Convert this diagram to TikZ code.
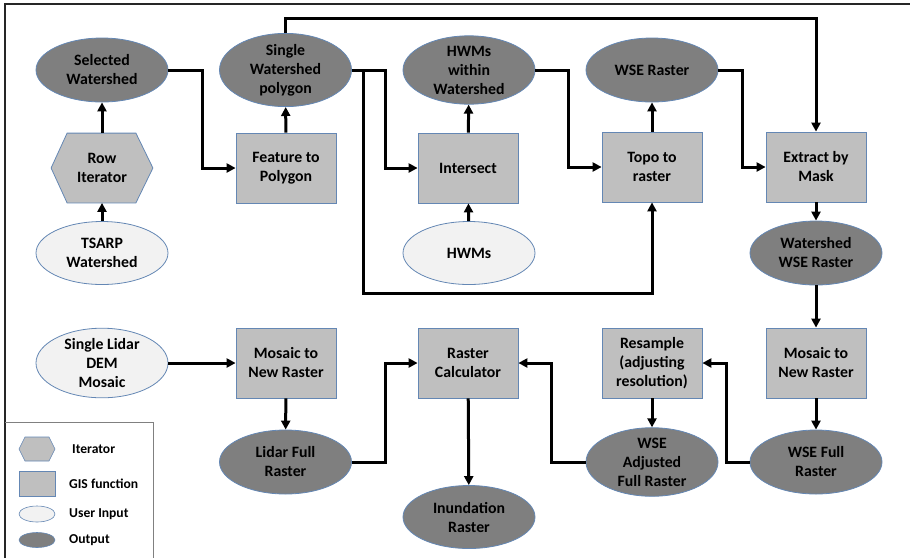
\documentclass[tikz,border=0pt]{standalone}
\usepackage{fontspec}
\setmainfont{Carlito}
\usetikzlibrary{shapes.geometric,arrows.meta,backgrounds}
\definecolor{outfill}{RGB}{127,127,127}
\definecolor{gisfill}{RGB}{191,191,191}
\definecolor{infill}{RGB}{242,242,242}
\definecolor{edgeblue}{RGB}{100,135,180}
\begin{document}
\begin{tikzpicture}[x=1pt,y=-1pt,
 base/.style={font=\fontsize{15.8}{19}\selectfont\bfseries, align=center, inner sep=0pt, draw=edgeblue, line width=0.8pt},
 outnode/.style={base, ellipse, fill=outfill, minimum width=132, minimum height=64},
 innode/.style={base, ellipse, fill=infill, minimum width=132, minimum height=63},
 gis/.style={base, rectangle, fill=gisfill, minimum width=100, minimum height=70},
 itnode/.style={base, rectangle, draw=none, minimum width=101, minimum height=69},
 legtext/.style={font=\fontsize{13.6}{15}\selectfont\bfseries, anchor=west, inner sep=0pt},
 arr/.style={line width=3pt, -{Triangle[length=9pt,width=9pt]}},
]
\useasboundingbox (0,0) rectangle (910,558);
\draw[line width=1.2pt, black!85] (5,558) -- (5,4) -- (910,4);
\draw[gray, line width=0.8pt] (5,422) -- (153,422) -- (153,558);

% column 1
\node[outnode] (selws) at (102,70) {Selected\\Watershed};
\node[itnode] (rowit) at (102,168) {Row\\Iterator};
\begin{scope}[on background layer]
\draw[draw=edgeblue, fill=gisfill, line width=0.8pt] (rowit.west) -- ([xshift=16]rowit.north west) -- ([xshift=-17]rowit.north east) -- (rowit.east) -- ([xshift=-17]rowit.south east) -- ([xshift=16]rowit.south west) -- cycle;
\end{scope}
\node[innode] (tsarp) at (102,253) {TSARP\\Watershed};
\node[innode] (lidar) at (102,363) {Single Lidar\\DEM\\Mosaic};

% column 2
\node[outnode] (singws) at (285.5,70) {Single\\Watershed\\polygon};
\node[gis] (ftp) at (286,168) {Feature to\\Polygon};
\node[gis] (mosl) at (286,363) {Mosaic to\\New Raster};
\node[outnode] (lidarfull) at (285.5,462) {Lidar Full\\Raster};

% column 3
\node[outnode] (hwmw) at (469,70) {HWMs\\within\\Watershed};
\node[gis] (intersect) at (468,168) {Intersect};
\node[innode] (hwms) at (469,253) {HWMs};
\node[gis] (rcalc) at (468,363) {Raster\\Calculator};
\node[outnode, minimum height=63] (inund) at (469,517) {Inundation\\Raster};

% column 4
\node[outnode] (wser) at (652,70) {WSE Raster};
\node[gis] (topo) at (652,167) {Topo to\\raster};
\node[gis] (resample) at (652,363) {Resample\\(adjusting\\resolution)};
\node[outnode] (wseadj) at (652,462) {WSE\\Adjusted\\Full Raster};

% column 5
\node[gis] (extract) at (816,167) {Extract by\\Mask};
\node[outnode] (wswse) at (816,253) {Watershed\\WSE Raster};
\node[gis] (mosr) at (816,363) {Mosaic to\\New Raster};
\node[outnode] (wsefull) at (816,462) {WSE Full\\Raster};

% connectors
\draw[arr] (tsarp) -- (rowit);
\draw[arr] (rowit) -- (selws);
\draw[arr] (selws.east) -- ++(34,0) |- (ftp.west);
\draw[arr] (ftp) -- (singws);
\draw[arr] (singws.north) -- ++(0,-15) -| (extract.north);
\draw[arr] (singws.east) -- ++(34,0) |- (intersect.west);
\coordinate (lowturn) at (363,293);
\draw[arr] (singws.east) -| (lowturn) -| (topo.south);
\draw[arr] (hwms) -- (intersect);
\draw[arr] (intersect) -- (hwmw);
\draw[arr] (hwmw.east) -- ++(33,0) |- (topo.west);
\draw[arr] (topo) -- (wser);
\draw[arr] (wser.east) -- ++(24,0) |- (extract.west);
\draw[arr] (extract) -- (wswse);
\draw[arr] (wswse) -- (mosr);
\draw[arr] (mosr) -- (wsefull);
\draw[arr] (wsefull.west) -- ++(-23,0) |- (resample.east);
\draw[arr] (resample) -- (wseadj);
\draw[arr] (wseadj.west) -- ++(-34,0) |- (rcalc.east);
\draw[arr] (rcalc) -- (inund);
\draw[arr] (lidar) -- (mosl);
\draw[arr] (mosl) -- (lidarfull);
\draw[arr] (lidarfull.east) -- ++(34,0) |- (rcalc.west);

% legend
\draw[draw=edgeblue, fill=gisfill, line width=0.6pt] (19,449) -- (25,437) -- (49,437) -- (55,449) -- (49,461) -- (25,461) -- cycle;
\node[legtext] (legit) at (72,449) {Iterator};
\node[draw=edgeblue, fill=gisfill, line width=0.6pt, minimum width=36, minimum height=25, inner sep=0pt] (legr) at (37,483.5) {};
\node[legtext] (leggis) at (69,483.5) {GIS function};
\node[draw=edgeblue, fill=infill, ellipse, line width=0.6pt, minimum width=36, minimum height=16, inner sep=0pt] (legin) at (37,514) {};
\node[legtext] (leguser) at (69,514) {User Input};
\node[draw=edgeblue, fill=outfill, ellipse, line width=0.6pt, minimum width=36, minimum height=15, inner sep=0pt] (legout) at (37,540) {};
\node[legtext] (legoutt) at (69,540) {Output};
\end{tikzpicture}
\end{document}
